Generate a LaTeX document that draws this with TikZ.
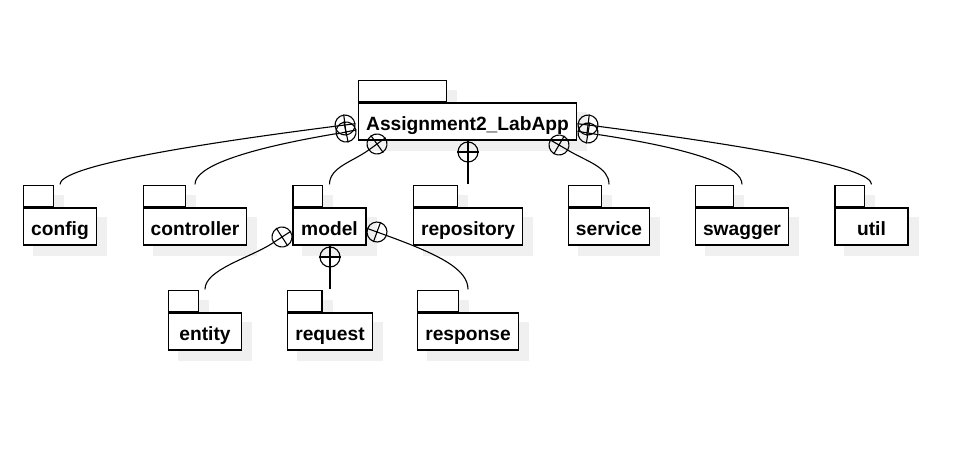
\documentclass[tikz,border=0pt]{standalone}
\usepackage{fontspec}
\setmainfont{Liberation Sans}
\usetikzlibrary{calc,backgrounds}

\tikzset{
  pkg/.style={draw, fill=white, line width=1.3pt, minimum height=37pt, minimum width=73pt,
    inner xsep=7.5pt, text height=18pt, text depth=0pt,
    font=\fontsize{19.2}{23}\selectfont\bfseries},
  pkgtab/.style={draw, fill=white, line width=1.3pt, minimum height=21pt, inner sep=0pt},
  pkgshadow/.style={fill=black!6, draw=none},
  nest/.style={draw, circle, minimum size=20pt, inner sep=0pt, line width=1.1pt},
  link/.style={line width=1.1pt},
}

% package = body with name, tab on top, shadow behind
\newcommand{\pkgbox}[3]{%
  \node[pkg] (#1) at (#2) {#3};
  \path let \p1 = ($(#1.north east)-(#1.north west)$) in
    node[pkgtab, minimum width=0.4*\x1, anchor=south west] (#1-tab) at (#1.north west) {};
  \begin{scope}[on background layer]
    \fill[pkgshadow] ([shift={(10pt,-10pt)}]#1.south west) rectangle ([shift={(10pt,-10pt)}]#1.north east);
    \fill[pkgshadow] ([shift={(10pt,-10pt)}]#1-tab.south west) rectangle ([shift={(10pt,-10pt)}]#1-tab.north east);
  \end{scope}
  \coordinate (#1-top) at ([yshift=23pt]#1.north);
}

% nesting mark: circle with cross
\newcommand{\nestmark}[3]{%
  \node[nest, rotate=#3] (#1) at (#2) {};
  \draw[link] (#1.0) -- (#1.180) (#1.90) -- (#1.270);
}

\begin{document}
\begin{tikzpicture}[x=1pt, y=-1pt]
  \useasboundingbox (0,0) rectangle (970,466);

  % packages
  \pkgbox{app}{467.5,121.5}{Assignment2\_LabApp}
  \pkgbox{config}{60,226.5}{config}
  \pkgbox{controller}{195,226.5}{controller}
  \pkgbox{model}{329.5,226.5}{model}
  \pkgbox{repository}{468,226.5}{repository}
  \pkgbox{service}{609,226.5}{service}
  \pkgbox{swagger}{742,226.5}{swagger}
  \pkgbox{util}{871.5,226.5}{util}
  \pkgbox{entity}{205,331.5}{entity}
  \pkgbox{request}{330,331.5}{request}
  \pkgbox{response}{468,331.5}{response}

  % nesting marks
  \nestmark{c1}{345,125}{7}
  \nestmark{c2}{346,132}{12}
  \nestmark{c3}{377,144}{36}
  \nestmark{c4}{468,152}{90}
  \nestmark{c5}{559,145}{150}
  \nestmark{c6}{588,133}{171}
  \nestmark{c7}{588,125}{173}
  \nestmark{m1}{282,237}{33}
  \nestmark{m2}{330,257}{90}
  \nestmark{m3}{377,232}{160}

  % connectors
  \draw[link] (config-top) .. controls +(0,-15) and +(-195,25) .. (c1);
  \draw[link] (controller-top) .. controls +(0,-17) and +(-106,18) .. (c2);
  \draw[link] (model-top) .. controls +(0,-17) and +(-25,18) .. (c3);
  \draw[link] (repository-top) -- (c4);
  \draw[link] (service-top) .. controls +(0,-17) and +(29,17) .. (c5);
  \draw[link] (swagger-top) .. controls +(0,-17) and +(112,17) .. (c6);
  \draw[link] (util-top) .. controls +(0,-15) and +(192,25) .. (c7);
  \draw[link] (entity-top) .. controls +(0,-20) and +(-32,21) .. (m1);
  \draw[link] (request-top) -- (m2);
  \draw[link] (response-top) .. controls +(0,-20) and +(63,23) .. (m3);
\end{tikzpicture}
\end{document}
